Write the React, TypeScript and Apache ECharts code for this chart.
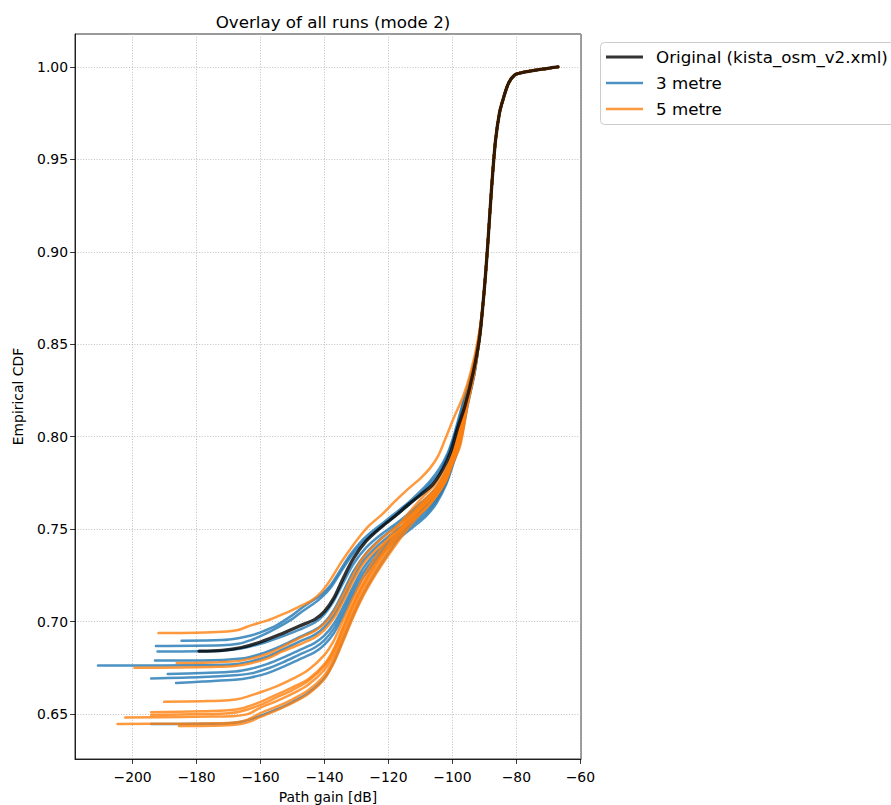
import React, { useEffect, useRef } from "react";
import * as echarts from "echarts";

type Pt = [number, number];

// ---- data: empirical CDF of path gain, one array per run ----
const xTicks = [-200, -180, -160, -140, -120, -100, -80, -60];
const yTicks = [0.65, 0.7, 0.75, 0.8, 0.85, 0.9, 0.95, 1.0];

// steep upper part that every run shares
const sharedTail: Pt[] = [
  [-96.1, 0.8166], [-93.5, 0.8348], [-91.6, 0.8526], [-90.5, 0.8706], [-89.6, 0.8888],
  [-88.85, 0.9066], [-88.15, 0.9246], [-87.4, 0.9428], [-86.5, 0.9606], [-85.3, 0.975],
  [-84.2, 0.9822], [-82.5, 0.991], [-80.5, 0.9957], [-78, 0.997], [-73, 0.9985], [-67, 1.0],
];

const original: Pt[] = [
  [-179.2, 0.684], [-172, 0.6845], [-166, 0.686], [-160, 0.689], [-154, 0.693], [-148, 0.6975],
  [-143, 0.7012], [-140, 0.7055], [-137, 0.713], [-134, 0.724], [-131, 0.734], [-127, 0.7435],
  [-122, 0.7515], [-118, 0.757], [-114, 0.763], [-110, 0.7685], [-106, 0.7745], [-103, 0.7825],
  [-100.5, 0.792], [-98.5, 0.804],
];

// 3 metre runs
const m3a: Pt[] = [
  [-184.7, 0.6897], [-172, 0.69], [-167, 0.691], [-163, 0.6925], [-160, 0.6942], [-155, 0.698],
  [-150, 0.7035], [-147, 0.7075], [-144, 0.711], [-141, 0.7145], [-138, 0.72], [-135, 0.728],
  [-132, 0.736], [-129, 0.7425], [-126, 0.7475], [-122, 0.753], [-118, 0.7585], [-114, 0.764],
  [-110, 0.7705], [-107, 0.776], [-104, 0.783], [-101.5, 0.791], [-99.5, 0.801], [-97, 0.8166],
  [-94, 0.8348],
];
const m3b: Pt[] = [
  [-192.7, 0.6868], [-172, 0.6872], [-167, 0.688], [-163, 0.69], [-160, 0.6921], [-155, 0.6965],
  [-150, 0.7015], [-147, 0.7055], [-144, 0.709], [-141, 0.713], [-138, 0.7185], [-135, 0.7265],
  [-132, 0.7345], [-129, 0.741], [-126, 0.746], [-122, 0.7515], [-118, 0.757], [-114, 0.7625],
  [-110, 0.769], [-107, 0.7745], [-104, 0.781], [-101.5, 0.79], [-99.5, 0.8], [-96.8, 0.8166],
  [-93.9, 0.8348],
];
const m3c: Pt[] = [
  [-192.2, 0.6838], [-179, 0.684], [-172, 0.6843], [-166, 0.6855], [-160, 0.688], [-154, 0.6915],
  [-148, 0.6955], [-143, 0.6995], [-140, 0.704], [-137, 0.7115], [-134, 0.7215], [-131, 0.731],
  [-127, 0.74], [-122, 0.7475], [-118, 0.7525], [-114, 0.758], [-110, 0.764], [-106, 0.7705],
  [-103, 0.778], [-100.5, 0.789], [-98.5, 0.801], [-96.2, 0.8166], [-93.6, 0.8348],
];
const m3d: Pt[] = [
  [-193, 0.679], [-178.5, 0.679], [-166, 0.68], [-160, 0.6825], [-154, 0.6865], [-148, 0.6915],
  [-143, 0.6955], [-140, 0.6995], [-137, 0.7065], [-134, 0.7165], [-131, 0.727], [-127, 0.737],
  [-122, 0.7455], [-118, 0.751], [-114, 0.7565], [-110, 0.7625], [-106, 0.769], [-103, 0.7765],
  [-100.5, 0.787], [-98.5, 0.799], [-96, 0.8166], [-93.4, 0.8348],
];
const m3e: Pt[] = [
  [-210.8, 0.6762], [-190, 0.6763], [-178, 0.6765], [-168, 0.677], [-163, 0.6785], [-158, 0.681],
  [-153, 0.685], [-148, 0.689], [-143, 0.693], [-140, 0.697], [-137, 0.7035], [-134, 0.713],
  [-131, 0.7235], [-128, 0.7325], [-124, 0.74], [-120, 0.746], [-116, 0.7515], [-112, 0.757],
  [-108, 0.763], [-105, 0.769], [-102, 0.778], [-100, 0.788], [-98.5, 0.799], [-96, 0.8166],
  [-93.4, 0.8348],
];
const m3f: Pt[] = [
  [-189, 0.6717], [-178, 0.6722], [-168, 0.673], [-163, 0.6745], [-158, 0.677], [-153, 0.6805],
  [-148, 0.6845], [-143, 0.6885], [-140, 0.6925], [-137, 0.699], [-134, 0.7085], [-131, 0.719],
  [-128, 0.7285], [-124, 0.737], [-120, 0.7435], [-116, 0.749], [-112, 0.7545], [-108, 0.7605],
  [-105, 0.767], [-102, 0.776], [-100, 0.786], [-98, 0.797], [-95.6, 0.8166], [-93.2, 0.8348],
];
const m3g: Pt[] = [
  [-194.2, 0.6692], [-178, 0.67], [-168, 0.671], [-163, 0.672], [-158, 0.6745], [-153, 0.678],
  [-148, 0.682], [-143, 0.686], [-140, 0.69], [-137, 0.6965], [-134, 0.706], [-131, 0.7165],
  [-128, 0.726], [-124, 0.735], [-120, 0.742], [-116, 0.7475], [-112, 0.753], [-108, 0.759],
  [-105, 0.7655], [-102, 0.775], [-100, 0.785], [-98, 0.796], [-95.5, 0.8166], [-93.1, 0.8348],
];
const m3h: Pt[] = [
  [-186.4, 0.6668], [-178, 0.6676], [-168, 0.6685], [-163, 0.6698], [-158, 0.672], [-153, 0.6755],
  [-148, 0.6795], [-143, 0.6835], [-140, 0.6875], [-137, 0.694], [-134, 0.7035], [-131, 0.714],
  [-128, 0.7235], [-124, 0.733], [-120, 0.7405], [-116, 0.746], [-112, 0.7515], [-108, 0.7575],
  [-105, 0.764], [-102, 0.774], [-100, 0.784], [-97.8, 0.796], [-95.4, 0.8166], [-93.1, 0.8348],
];
const m3i: Pt[] = [
  [-194.2, 0.6446], [-178, 0.6447], [-170, 0.645], [-166, 0.6458], [-160, 0.649], [-155, 0.6525],
  [-150, 0.6565], [-145, 0.6615], [-140, 0.6695], [-137, 0.6785], [-134, 0.691], [-131, 0.7035],
  [-128, 0.7145], [-124, 0.7265], [-120, 0.737], [-115, 0.749], [-110, 0.7595], [-105, 0.769],
  [-102, 0.777], [-100, 0.7855], [-97.6, 0.7965], [-95.3, 0.8166], [-93, 0.8348],
];

// 5 metre runs
const m5a: Pt[] = [
  [-191.9, 0.6938], [-180, 0.694], [-172, 0.6945], [-167, 0.6955], [-163, 0.698], [-158, 0.7005],
  [-153, 0.704], [-148, 0.708], [-144, 0.7115], [-141, 0.716], [-138, 0.723], [-135, 0.7315],
  [-132, 0.739], [-129, 0.746], [-126, 0.752], [-122, 0.758], [-118, 0.765], [-114, 0.7715],
  [-110, 0.7775], [-107, 0.783], [-104.5, 0.7895], [-102.3, 0.7985], [-99.5, 0.8105],
  [-96.6, 0.822], [-94.3, 0.8348], [-92, 0.8526],
];
const m5b: Pt[] = [
  [-186.2, 0.6776], [-178, 0.6778], [-168, 0.6785], [-163, 0.68], [-158, 0.6825], [-153, 0.6865],
  [-148, 0.691], [-143, 0.695], [-140, 0.699], [-137, 0.7055], [-134, 0.715], [-131, 0.7255],
  [-128, 0.7345], [-124, 0.742], [-120, 0.748], [-116, 0.7535], [-112, 0.759], [-108, 0.7655],
  [-105, 0.772], [-102, 0.781], [-100, 0.79], [-98.5, 0.8], [-96.2, 0.8166], [-93.7, 0.8348],
  [-91.8, 0.8526],
];
const m5c: Pt[] = [
  [-199.4, 0.675], [-185, 0.6752], [-175, 0.6755], [-168, 0.676], [-163, 0.6775], [-158, 0.68],
  [-153, 0.684], [-148, 0.6875], [-143, 0.6915], [-140, 0.6955], [-137, 0.702], [-134, 0.7115],
  [-131, 0.722], [-128, 0.731], [-124, 0.7385], [-120, 0.7445], [-116, 0.75], [-112, 0.7555],
  [-108, 0.7615], [-105, 0.768], [-102, 0.777], [-100, 0.787], [-98.5, 0.798], [-96.1, 0.8166],
  [-93.6, 0.8348], [-91.8, 0.8526],
];
const m5d: Pt[] = [
  [-190.1, 0.6566], [-178, 0.657], [-170, 0.6575], [-166, 0.6585], [-160, 0.6618], [-155, 0.665],
  [-150, 0.669], [-145, 0.674], [-140, 0.682], [-137, 0.69], [-134, 0.7015], [-131, 0.713],
  [-128, 0.7235], [-124, 0.735], [-120, 0.745], [-115, 0.756], [-110, 0.766], [-105, 0.775],
  [-102, 0.783], [-100, 0.791], [-98.5, 0.8], [-96.3, 0.8166], [-93.8, 0.8348], [-91.9, 0.8526],
];
const m5e: Pt[] = [
  [-194.2, 0.651], [-178, 0.6515], [-170, 0.652], [-166, 0.653], [-160, 0.6566], [-155, 0.6605],
  [-150, 0.6645], [-145, 0.669], [-140, 0.677], [-137, 0.6855], [-134, 0.698], [-131, 0.71],
  [-128, 0.7205], [-124, 0.732], [-120, 0.742], [-115, 0.7535], [-110, 0.7635], [-105, 0.7725],
  [-102, 0.7805], [-100, 0.789], [-98.2, 0.798], [-95.9, 0.8166], [-93.5, 0.8348],
];
const m5f: Pt[] = [
  [-194.2, 0.6495], [-178, 0.65], [-170, 0.6505], [-166, 0.6515], [-160, 0.655], [-155, 0.659],
  [-150, 0.663], [-145, 0.668], [-140, 0.676], [-137, 0.6845], [-134, 0.697], [-131, 0.709],
  [-128, 0.7195], [-124, 0.731], [-120, 0.741], [-115, 0.7525], [-110, 0.7625], [-105, 0.7715],
  [-102, 0.7795], [-100, 0.788], [-98, 0.797], [-95.7, 0.8166], [-93.4, 0.8348],
];
const m5g: Pt[] = [
  [-202.3, 0.6482], [-185, 0.6484], [-175, 0.6487], [-168, 0.649], [-164, 0.65], [-160, 0.6535],
  [-155, 0.657], [-150, 0.661], [-145, 0.666], [-140, 0.674], [-137, 0.6825], [-134, 0.695],
  [-131, 0.707], [-128, 0.718], [-124, 0.7295], [-120, 0.7395], [-115, 0.751], [-110, 0.761],
  [-105, 0.77], [-102, 0.778], [-100, 0.7865], [-98, 0.796], [-95.6, 0.8166], [-93.3, 0.8348],
];
const m5h: Pt[] = [
  [-204.7, 0.6446], [-185, 0.6448], [-175, 0.645], [-168, 0.6455], [-164, 0.647], [-160, 0.6505],
  [-155, 0.654], [-150, 0.658], [-145, 0.663], [-140, 0.671], [-137, 0.68], [-134, 0.6925],
  [-131, 0.7045], [-128, 0.7155], [-124, 0.7275], [-120, 0.738], [-115, 0.75], [-110, 0.7605],
  [-105, 0.7695], [-102, 0.7775], [-100, 0.786], [-97.8, 0.7955], [-95.5, 0.8166], [-93.2, 0.8348],
];
const m5i: Pt[] = [
  [-185.5, 0.6435], [-175, 0.6437], [-168, 0.6442], [-164, 0.6455], [-160, 0.6485], [-155, 0.652],
  [-150, 0.656], [-145, 0.661], [-140, 0.669], [-137, 0.678], [-134, 0.69], [-131, 0.7025],
  [-128, 0.7135], [-124, 0.7255], [-120, 0.736], [-115, 0.748], [-110, 0.7585], [-105, 0.768],
  [-102, 0.776], [-100, 0.785], [-97.6, 0.795], [-95.3, 0.8166], [-93.1, 0.8348],
];

const runs3m = [m3a, m3b, m3c, m3d, m3e, m3f, m3g, m3h, m3i];
const runs5m = [m5a, m5b, m5c, m5d, m5e, m5f, m5g, m5h, m5i];

const BLUE = "rgba(31,119,180,0.8)";
const ORANGE = "rgba(255,127,14,0.8)";
const BLACK = "rgba(0,0,0,0.8)";
const FONT = "DejaVu Sans";

// continue a run with the common steep upper section above its last point
function withTail(d: Pt[]): Pt[] {
  const last = d[d.length - 1];
  return d.concat(sharedTail.filter((p) => p[1] > last[1] + 0.005));
}

const minus = (v: number) => String(v).replace("-", "\u2212");

export default function App() {
  const ref = useRef<HTMLDivElement>(null);

  useEffect(() => {
    if (!ref.current) return;
    const chart = echarts.init(ref.current, undefined, { renderer: "svg" });

    const lineSeries = (name: string, data: Pt[], color: string, width: number) => ({
      name,
      type: "line",
      data,
      showSymbol: false,
      symbol: "none",
      smooth: 0.3,
      silent: true,
      lineStyle: { color, width, cap: "round", join: "round" },
    });

    const series: any[] = [
      ...runs3m.map((d) => lineSeries("3 metre", withTail(d), BLUE, 2.5)),
      ...runs5m.map((d) => lineSeries("5 metre", withTail(d), ORANGE, 2.5)),
      lineSeries("Original (kista_osm_v2.xml)", original.concat(sharedTail), BLACK, 3.3),
    ];

    const legendRows: [string, string, number][] = [
      ["Original (kista_osm_v2.xml)", "#333333", 3],
      ["3 metre", "#4b92c3", 2.5],
      ["5 metre", "#fe993e", 2.5],
    ];

    const legendGraphics: any[] = [
      {
        type: "rect",
        shape: { x: 600.5, y: 42.5, width: 320, height: 82, r: 4 },
        style: { fill: "rgba(255,255,255,0.8)", stroke: "#cccccc", lineWidth: 1 },
        z: 100,
      },
    ];
    legendRows.forEach(([label, color, w], i) => {
      const y = 57 + i * 26;
      legendGraphics.push({
        type: "line",
        shape: { x1: 606, y1: y, x2: 643, y2: y },
        style: { stroke: color, lineWidth: w },
        z: 101,
      });
      legendGraphics.push({
        type: "text",
        x: 656,
        y,
        style: {
          text: label,
          fill: "#000",
          font: `16.7px "${FONT}"`,
          textAlign: "left",
          textVerticalAlign: "middle",
        },
        z: 101,
      });
    });

    chart.setOption({
      animation: false,
      backgroundColor: "#ffffff",
      title: {
        text: "Overlay of all runs (mode 2)",
        left: 328,
        top: 8,
        textAlign: "center",
        textStyle: { fontFamily: FONT, fontSize: 16.7, fontWeight: "normal", color: "#000" },
      },
      grid: {
        left: 75,
        right: 310,
        top: 34,
        bottom: 46,
        containLabel: false,
        outerBoundsMode: "none",
        show: true,
        borderColor: "#000",
        borderWidth: 0.8,
        backgroundColor: "transparent",
      },
      xAxis: {
        type: "value",
        min: -218,
        max: -59.8,
        name: "Path gain [dB]",
        nameLocation: "middle",
        nameGap: 31,
        nameTextStyle: { fontFamily: FONT, fontSize: 13.9, color: "#000" },
        axisLine: { show: true, lineStyle: { color: "#000", width: 0.8 } },
        axisTick: { show: true, inside: false, length: 4.9, customValues: xTicks, lineStyle: { color: "#000", width: 0.8 } },
        axisLabel: {
          customValues: xTicks,
          margin: 11,
          fontFamily: FONT,
          fontSize: 13.9,
          color: "#000",
          formatter: (v: number) => minus(v),
        },
        splitLine: { show: true, lineStyle: { color: "#b0b0b0", width: 0.8, type: [1, 1.7] } },
      },
      yAxis: {
        type: "value",
        min: 0.6257,
        max: 1.0178,
        name: "Empirical CDF",
        nameLocation: "middle",
        nameGap: 50,
        nameTextStyle: { fontFamily: FONT, fontSize: 13.9, color: "#000" },
        axisLine: { show: true, lineStyle: { color: "#000", width: 0.8 } },
        axisTick: { show: true, inside: false, length: 4.9, customValues: yTicks, lineStyle: { color: "#000", width: 0.8 } },
        axisLabel: {
          customValues: yTicks,
          margin: 7,
          fontFamily: FONT,
          fontSize: 13.9,
          color: "#000",
          formatter: (v: number) => v.toFixed(2),
        },
        splitLine: { show: true, lineStyle: { color: "#b0b0b0", width: 0.8, type: [1, 1.7] } },
      },
      graphic: legendGraphics,
      series,
    });

    return () => chart.dispose();
  }, []);

  return (
    <div
      ref={ref}
      style={{ position: "fixed", left: 0, top: 0, width: 891, height: 805, background: "#fff" }}
    />
  );
}
